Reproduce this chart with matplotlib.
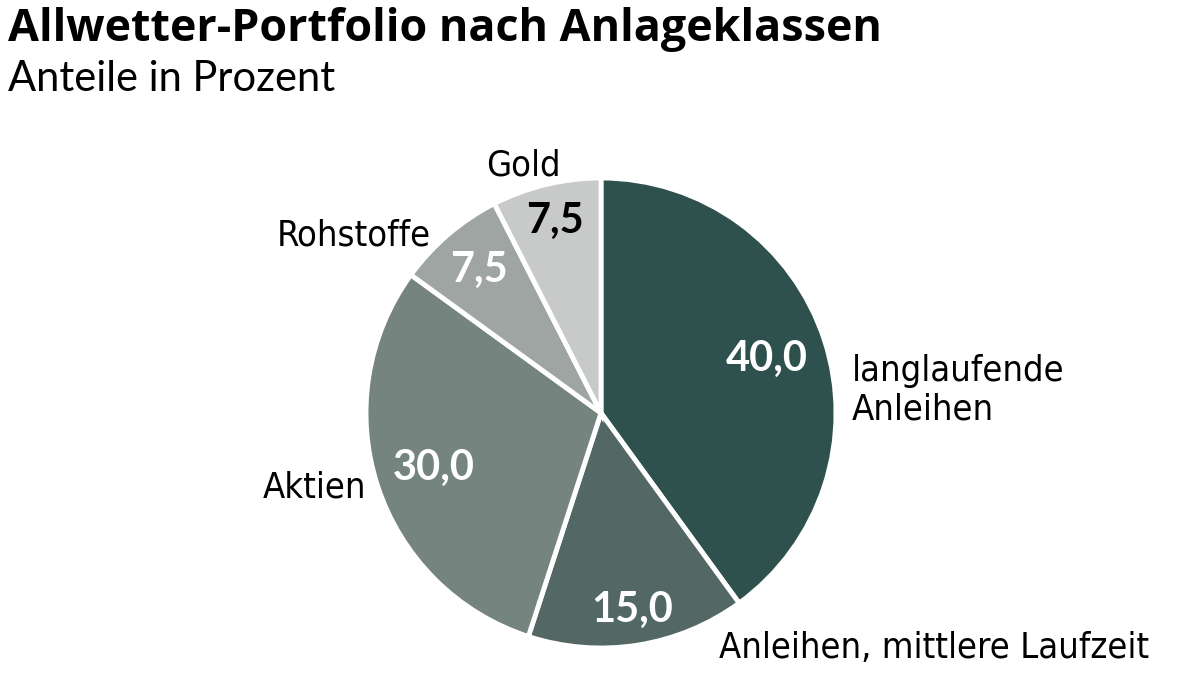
import numpy as np
import matplotlib.pyplot as plt

# Data
categories = ['langlaufende\nAnleihen', 'Anleihen, mittlere Laufzeit', 'Aktien', 'Rohstoffe', 'Gold']
shares = [40.0, 15.0, 30.0, 7.5, 7.5]
colors = ['#2f514d', '#536864', '#75847f', '#9ea5a2', '#c7cac8']
value_colors = ['white', 'white', 'white', 'white', 'black']

# layout in pixel units (figure is 1200 x 688)
W, H = 1200, 688
cx, cy, R = 601, H - 413, 235

fig = plt.figure(figsize=(12, 6.88), dpi=100)
ax = fig.add_axes([0, 0, 1, 1])
ax.set_xlim(0, W)
ax.set_ylim(0, H)
ax.set_aspect('equal')
ax.axis('off')

wedges, _ = ax.pie(shares, colors=colors, startangle=90, counterclock=False,
                   center=(cx, cy), radius=R,
                   wedgeprops=dict(edgecolor='white', linewidth=3.5))
ax.set_xlim(0, W)
ax.set_ylim(0, H)

# value labels at the middle angle of each wedge
val_r = [0.74, 0.85, 0.75, 0.80, 0.84]
for w, v, r, c in zip(wedges, shares, val_r, value_colors):
    ang = np.deg2rad((w.theta1 + w.theta2) / 2)
    ax.text(cx + r * R * np.cos(ang), cy + r * R * np.sin(ang),
            f'{v:.1f}'.replace('.', ','), color=c, fontsize=30,
            fontweight='bold', family='Lato', ha='center', va='center')

# category labels
lab_font = dict(fontsize=26, family='DejaVu Sans', fontstretch='condensed', color='black')
ax.text(852, H - 390, categories[0], ha='left', va='center', linespacing=1.15, **lab_font)
ax.text(719, H - 648, categories[1], ha='left', va='center', **lab_font)
ax.text(366, H - 488, categories[2], ha='right', va='center', **lab_font)
ax.text(431, H - 236, categories[3], ha='right', va='center', **lab_font)
ax.text(523, H - 166, categories[4], ha='center', va='center', **lab_font)

# title and subtitle
fig.text(8 / W, 1 - 30 / H, 'Allwetter-Portfolio nach Anlageklassen', fontsize=32.3,
         fontweight='bold', family='Open Sans', ha='left', va='center')
fig.text(8 / W, 1 - 79 / H, 'Anteile in Prozent', fontsize=30, fontweight='normal',
         family='Lato', ha='left', va='center')

plt.savefig('out.png', dpi=100)
